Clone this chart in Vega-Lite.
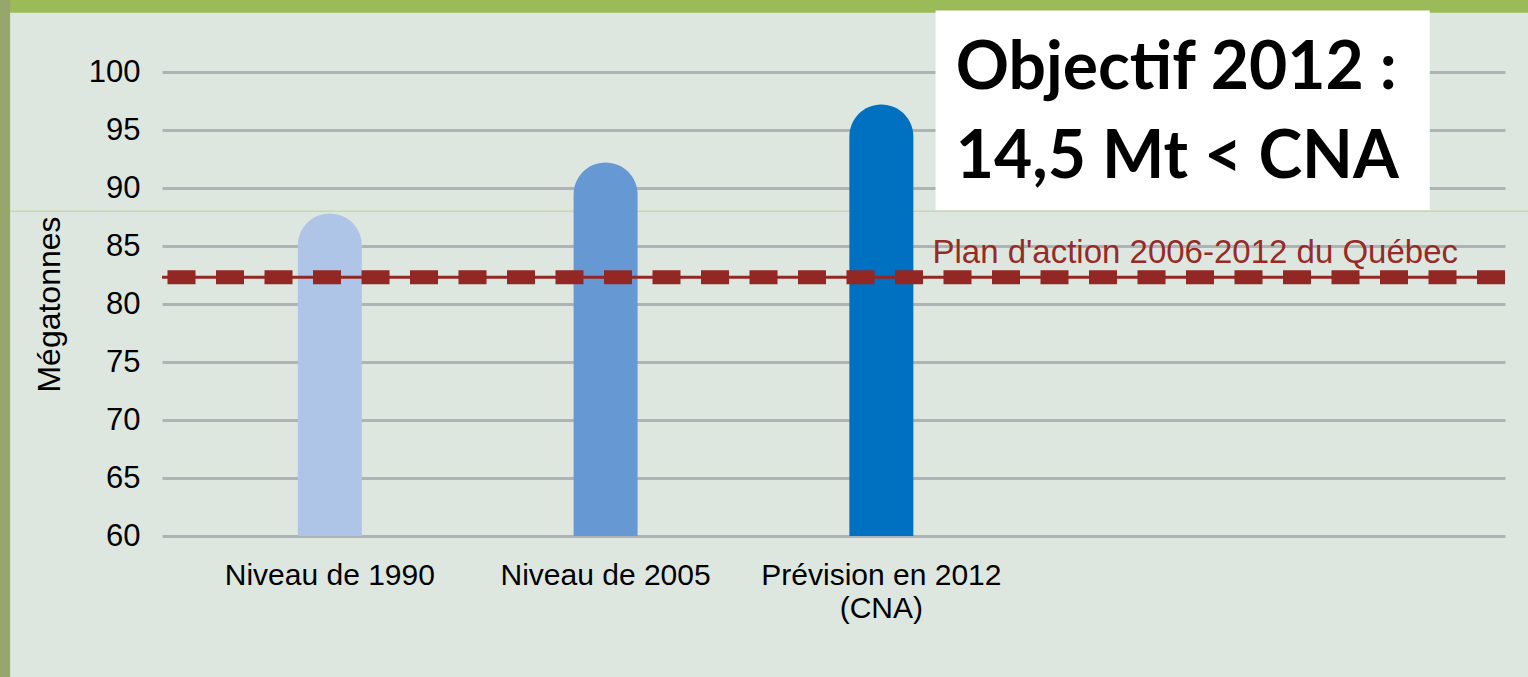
{
  "$schema": "https://vega.github.io/schema/vega-lite/v6.json",
  "width": 1343,
  "height": 464,
  "autosize": {"type": "none"},
  "padding": {"left": 162, "top": 72, "right": 23, "bottom": 141},
  "background": "#dee7df",
  "config": {"view": {"stroke": null}, "font": "Liberation Sans"},
  "datasets": {
    "emissions": [
      {"periode": "Niveau de 1990", "megatonnes": 87.8},
      {"periode": "Niveau de 2005", "megatonnes": 92.2},
      {"periode": "Prévision en 2012 (CNA)", "megatonnes": 97.2}
    ],
    "plan": [
      {"nom": "Plan d'action 2006-2012 du Québec", "cible": 82.3}
    ],
    "objectif": [
      {"texte": "Objectif 2012 :|14,5 Mt < CNA"}
    ]
  },
  "layer": [
    {
      "data": {"name": "objectif"},
      "mark": {"type": "rect", "color": "#9bbb59"},
      "encoding": {
        "x": {"datum": -0.121, "type": "quantitative", "scale": {"domain": [0, 1], "nice": false, "zero": false}, "axis": null},
        "x2": {"datum": 1.02},
        "y": {"datum": 106.3, "type": "quantitative"},
        "y2": {"datum": 105.1}
      }
    },
    {
      "data": {"name": "objectif"},
      "mark": {"type": "rect", "color": "#97a76c"},
      "encoding": {
        "x": {"datum": -0.121, "type": "quantitative", "scale": {"domain": [0, 1], "nice": false, "zero": false}, "axis": null},
        "x2": {"datum": -0.1131},
        "y": {"datum": 106.3, "type": "quantitative"},
        "y2": {"datum": 47.5}
      }
    },
    {
      "data": {"name": "objectif"},
      "mark": {"type": "rule", "color": "#c5d9a9", "strokeWidth": 1.5},
      "encoding": {
        "x": {"datum": -0.1131, "type": "quantitative", "scale": {"domain": [0, 1], "nice": false, "zero": false}, "axis": null},
        "x2": {"datum": 1.02},
        "y": {"datum": 88.0, "type": "quantitative"}
      }
    },
    {
      "data": {"name": "emissions"},
      "mark": {"type": "bar", "cornerRadiusTopLeft": 32, "cornerRadiusTopRight": 32},
      "encoding": {
        "x": {
          "field": "periode",
          "type": "nominal",
          "sort": null,
          "scale": {
            "domain": ["Niveau de 1990", "Niveau de 2005", "Prévision en 2012 (CNA)", " ", "  "],
            "paddingInner": 0.768,
            "paddingOuter": 0.319,
            "align": 0.772
          },
          "axis": {
            "title": null,
            "domain": false,
            "ticks": false,
            "tickSize": 0,
            "grid": false,
            "labelAngle": 0,
            "labelFont": "Liberation Sans",
            "labelFontSize": 30,
            "labelColor": "#000000",
            "labelPadding": 24,
            "labelLineHeight": 33,
            "labelLimit": 0,
            "labelExpr": "datum.value == 'Prévision en 2012 (CNA)' ? ['Prévision en 2012', '(CNA)'] : datum.label"
          }
        },
        "y": {
          "field": "megatonnes",
          "type": "quantitative",
          "scale": {"domain": [60, 100], "zero": false, "nice": false},
          "axis": {
            "title": "Mégatonnes",
            "titleFont": "Liberation Sans",
            "titleFontSize": 32,
            "titleFontWeight": "normal",
            "titleColor": "#000000",
            "titlePadding": 22,
            "values": [60, 65, 70, 75, 80, 85, 90, 95, 100],
            "domain": false,
            "ticks": false,
            "tickSize": 0,
            "labelFont": "Liberation Sans",
            "labelFontSize": 31,
            "labelColor": "#000000",
            "labelPadding": 22,
            "grid": true,
            "gridColor": "#b0b3b5",
            "gridWidth": 3
          }
        },
        "y2": {"datum": 60},
        "color": {
          "field": "periode",
          "type": "nominal",
          "scale": {"domain": ["Niveau de 1990", "Niveau de 2005", "Prévision en 2012 (CNA)"], "range": ["#aec5e8", "#6699d3", "#0070c0"]},
          "legend": null
        }
      }
    },
    {
      "data": {"name": "plan"},
      "mark": {"type": "rule", "color": "#922724", "strokeWidth": 3},
      "encoding": {"y": {"field": "cible", "type": "quantitative"}}
    },
    {
      "data": {"name": "plan"},
      "mark": {"type": "rule", "color": "#922724", "strokeWidth": 14, "strokeDash": [28, 20.5]},
      "encoding": {"y": {"field": "cible", "type": "quantitative"}}
    },
    {
      "data": {"name": "plan"},
      "mark": {"type": "text", "color": "#962b28", "font": "Liberation Sans", "fontSize": 33, "align": "right", "baseline": "alphabetic"},
      "encoding": {
        "x": {"datum": 0.965, "type": "quantitative", "scale": {"domain": [0, 1], "nice": false, "zero": false}, "axis": null},
        "y": {"datum": 83.55, "type": "quantitative"},
        "text": {"field": "nom"}
      }
    },
    {
      "data": {"name": "objectif"},
      "mark": {"type": "rect", "color": "#ffffff"},
      "encoding": {
        "x": {"datum": 0.576, "type": "quantitative", "scale": {"domain": [0, 1], "nice": false, "zero": false}, "axis": null},
        "x2": {"datum": 0.944},
        "y": {"datum": 105.3, "type": "quantitative"},
        "y2": {"datum": 88.1}
      }
    },
    {
      "data": {"name": "objectif"},
      "mark": {"type": "text", "color": "#000000", "font": "Lato", "fontWeight": "bold", "fontSize": 66, "align": "left", "baseline": "alphabetic", "lineHeight": 89, "lineBreak": "|"},
      "encoding": {
        "x": {"datum": 0.591, "type": "quantitative", "scale": {"domain": [0, 1], "nice": false, "zero": false}, "axis": null},
        "y": {"datum": 98.53, "type": "quantitative"},
        "text": {"field": "texte"}
      }
    }
  ],
  "resolve": {"scale": {"x": "independent"}},
  "encoding": {}
}
